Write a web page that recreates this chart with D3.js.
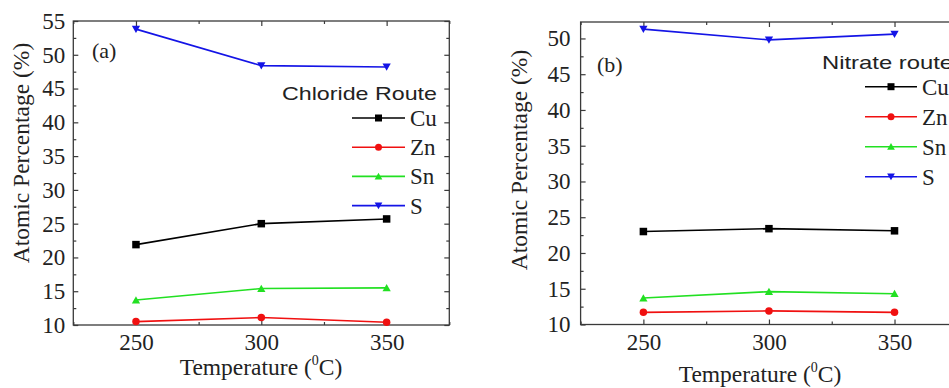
<!DOCTYPE html>
<html><head><meta charset="utf-8">
<script src="https://cdn.jsdelivr.net/npm/d3@7"></script>
<style>
html,body{margin:0;padding:0;background:#fff;}
svg{display:block;}
</style></head>
<body>
<svg id="chart" width="949" height="388"></svg>
<script>
// ---- data ----
const temperatures = [250, 300, 350];
const elements = ["Cu", "Zn", "Sn", "S"];
const chlorideCu = [21.9, 25.0, 25.7];
const chlorideZn = [10.5, 11.1, 10.4];
const chlorideSn = [13.7, 15.4, 15.5];
const chlorideS  = [53.8, 48.4, 48.2];
const nitrateCu = [23.0, 23.4, 23.1];
const nitrateZn = [11.7, 11.9, 11.7];
const nitrateSn = [13.7, 14.6, 14.3];
const nitrateS  = [51.3, 49.8, 50.6];
const xTicks = [250, 300, 350];
const yTicksA = [10, 15, 20, 25, 30, 35, 40, 45, 50, 55];
const yTicksB = [10, 15, 20, 25, 30, 35, 40, 45, 50];

const colors = {Cu: "#000000", Zn: "#f01010", Sn: "#22e022", S: "#1414e6"};
const shapes = {Cu: "square", Zn: "circle", Sn: "up", S: "down"};
const SERIF = "Liberation Serif, Times New Roman, serif";

const svg = d3.select("#chart");

function marker(g, shape, cx, cy, color, s) {
  if (shape === "square") {
    g.append("rect").attr("x", cx - s/2).attr("y", cy - s/2).attr("width", s).attr("height", s).attr("fill", color);
  } else if (shape === "circle") {
    g.append("circle").attr("cx", cx).attr("cy", cy).attr("r", s/2).attr("fill", color);
  } else if (shape === "up") {
    const h = s * 0.9, w = s * 1.1;
    g.append("path").attr("d", `M${cx},${cy - h/2 - 0.5}L${cx + w/2},${cy + h/2}L${cx - w/2},${cy + h/2}Z`).attr("fill", color);
  } else {
    const h = s * 0.9, w = s * 1.1;
    g.append("path").attr("d", `M${cx},${cy + h/2 + 0.5}L${cx + w/2},${cy - h/2}L${cx - w/2},${cy - h/2}Z`).attr("fill", color);
  }
}

function panel(cfg) {
  const g = svg.append("g");
  const x = d3.scaleLinear().domain([225, 375]).range([cfg.left, cfg.right]);
  const y = d3.scaleLinear().domain(cfg.yDomain).range([cfg.bottom, cfg.top]);

  const minorX = [225, 275, 325, 375];
  const minorY = d3.range(cfg.yDomain[0] + 2.5, cfg.yDomain[1], 5);

  // frame
  g.append("rect").attr("x", cfg.left).attr("y", cfg.top)
    .attr("width", cfg.right - cfg.left).attr("height", cfg.bottom - cfg.top)
    .attr("fill", "none").attr("stroke", "#3a3a3a").attr("stroke-width", 1.3);

  // axes
  const bottom = g.append("g").attr("transform", `translate(0,${cfg.bottom})`)
    .call(d3.axisBottom(x).tickValues(xTicks).tickSize(-5).tickPadding(9));
  const left = g.append("g").attr("transform", `translate(${cfg.left},0)`)
    .call(d3.axisLeft(y).tickValues(cfg.yTicks).tickSize(-5).tickPadding(cfg.yPad));
  const top = g.append("g").attr("transform", `translate(0,${cfg.top})`)
    .call(d3.axisTop(x).tickValues(xTicks).tickSize(-5).tickFormat(""));
  const right = g.append("g").attr("transform", `translate(${cfg.right},0)`)
    .call(d3.axisRight(y).tickValues(cfg.yTicks).tickSize(-5).tickFormat(""));
  const mb = g.append("g").attr("transform", `translate(0,${cfg.bottom})`)
    .call(d3.axisBottom(x).tickValues(minorX).tickSize(-3).tickFormat(""));
  const mt = g.append("g").attr("transform", `translate(0,${cfg.top})`)
    .call(d3.axisTop(x).tickValues(minorX).tickSize(-3).tickFormat(""));
  const ml = g.append("g").attr("transform", `translate(${cfg.left},0)`)
    .call(d3.axisLeft(y).tickValues(minorY).tickSize(-3).tickFormat(""));
  const mr = g.append("g").attr("transform", `translate(${cfg.right},0)`)
    .call(d3.axisRight(y).tickValues(minorY).tickSize(-3).tickFormat(""));
  [bottom, left, top, right, mb, mt, ml, mr].forEach(a => {
    a.select(".domain").remove();
    a.selectAll("line").attr("stroke", "#3a3a3a").attr("stroke-width", 1.2);
    a.selectAll("text").attr("fill", "#222").attr("font-family", SERIF).attr("font-size", 23);
  });
  bottom.selectAll("text").attr("dy", "0.71em");

  // series
  const series = [
    {name: "Cu", values: cfg.data.Cu},
    {name: "Zn", values: cfg.data.Zn},
    {name: "Sn", values: cfg.data.Sn},
    {name: "S",  values: cfg.data.S}
  ];
  const line = d3.line().x((d, i) => x(temperatures[i])).y(d => y(d));
  series.forEach(s => {
    g.append("path").datum(s.values).attr("d", line)
      .attr("fill", "none").attr("stroke", colors[s.name]).attr("stroke-width", 1.6);
    s.values.forEach((v, i) => marker(g, shapes[s.name], x(temperatures[i]), y(v), colors[s.name], 7.5));
  });

  // panel label
  g.append("text").attr("x", cfg.tagX).attr("y", cfg.tagY).text(cfg.tag)
    .attr("font-family", SERIF).attr("font-size", 22).attr("fill", "#222");

  // legend
  g.append("text").attr("x", cfg.legTitleX).attr("y", cfg.legTitleY).text(cfg.legTitle)
    .attr("font-family", "Liberation Sans, Arial, sans-serif").attr("font-size", 19)
    .attr("textLength", cfg.legTitleLen).attr("lengthAdjust", "spacingAndGlyphs").attr("fill", "#222");
  elements.forEach((e, i) => {
    const cy = cfg.legY0 + i * cfg.legDy;
    g.append("line").attr("x1", cfg.legX1).attr("x2", cfg.legX2).attr("y1", cy).attr("y2", cy)
      .attr("stroke", colors[e]).attr("stroke-width", 1.6);
    marker(g, shapes[e], (cfg.legX1 + cfg.legX2) / 2, cy, colors[e], 7);
    g.append("text").attr("x", cfg.legX2 + 5).attr("y", cy + 8).text(e)
      .attr("font-family", SERIF).attr("font-size", 23).attr("fill", "#222");
  });

  // axis titles
  const xt = g.append("text").attr("x", cfg.xTitleX).attr("y", cfg.xTitleY).attr("text-anchor", "middle")
    .attr("font-family", SERIF).attr("font-size", 23.5).attr("fill", "#222");
  xt.append("tspan").text("Temperature (");
  xt.append("tspan").text("0").attr("font-size", 14).attr("dy", -10);
  xt.append("tspan").text("C)").attr("dy", 10);

  g.append("text").attr("transform", `translate(${cfg.yTitleX},${cfg.yTitleY}) rotate(-90)`)
    .attr("text-anchor", "middle").text("Atomic Percentage (%)")
    .attr("font-family", SERIF).attr("font-size", 23.5).attr("fill", "#222");
}

panel({
  left: 73.3, right: 449.3, top: 21, bottom: 325, yDomain: [10, 55], yTicks: yTicksA, yPad: 8,
  data: {Cu: chlorideCu, Zn: chlorideZn, Sn: chlorideSn, S: chlorideS},
  tag: "(a)", tagX: 92, tagY: 58,
  legTitle: "Chloride Route", legTitleX: 282, legTitleY: 100, legTitleLen: 155,
  legX1: 352, legX2: 405, legY0: 118, legDy: 29.2,
  xTitleX: 261, xTitleY: 375, yTitleX: 29, yTitleY: 153
});
panel({
  left: 580.6, right: 957.3, top: 22, bottom: 324.5, yDomain: [10, 52.3], yTicks: yTicksB, yPad: 10,
  data: {Cu: nitrateCu, Zn: nitrateZn, Sn: nitrateSn, S: nitrateS},
  tag: "(b)", tagX: 597, tagY: 72,
  legTitle: "Nitrate route", legTitleX: 822, legTitleY: 69, legTitleLen: 131,
  legX1: 865, legX2: 917, legY0: 86.7, legDy: 30,
  xTitleX: 760, xTitleY: 382, yTitleX: 527, yTitleY: 160
});
</script>
</body></html>
